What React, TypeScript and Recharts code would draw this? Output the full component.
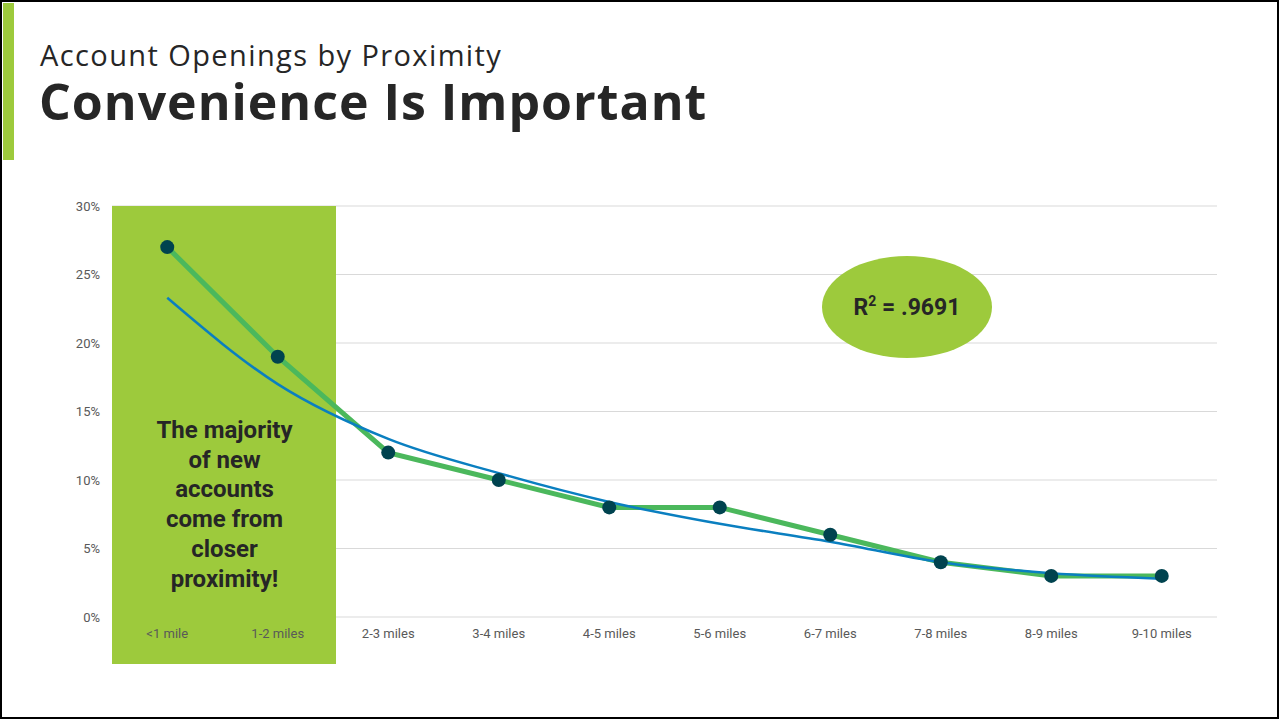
import React from "react";
import {
  LineChart,
  Line,
  XAxis,
  YAxis,
  CartesianGrid,
  ReferenceArea
} from "recharts";

const distances = [
  "<1 mile",
  "1-2 miles",
  "2-3 miles",
  "3-4 miles",
  "4-5 miles",
  "5-6 miles",
  "6-7 miles",
  "7-8 miles",
  "8-9 miles",
  "9-10 miles"
];
const openings = [27, 19, 12, 10, 8, 8, 6, 4, 3, 3];
const trend = [23.3, 17.0, 13.0, 10.5, 8.4, 6.8, 5.5, 4.0, 3.2, 2.8];
const percentTicks = [0, 5, 10, 15, 20, 25, 30];
const calloutLines = [
  "The majority",
  "of new",
  "accounts",
  "come from",
  "closer",
  "proximity!"
];

const data = distances.map((d, i) => ({
  distance: d,
  openings: openings[i],
  trend: trend[i]
}));

const GREEN = "#9dca3c";
const FONT = "Roboto, 'Noto Sans', sans-serif";
const TITLE_FONT = "'Open Sans', Roboto, sans-serif";

// green highlight behind the two nearest bands, runs down past the axis labels
const Highlight = (props: any) => {
  const { x, y, width, height } = props;
  const cx = x + width / 2;
  return (
    <g>
      <rect x={x} y={y} width={width + 3} height={height + 47} fill={GREEN} />
      <text
        textAnchor="middle"
        fontFamily={FONT}
        fontWeight={700}
        fontSize={24}
        fill="#262626"
      >
        {calloutLines.map((line, i) => (
          <tspan key={line} x={cx + 2} y={y + 232 + i * 29.7}>
            {line}
          </tspan>
        ))}
      </text>
    </g>
  );
};

export default function App() {
  return (
    <div
      style={{
        position: "absolute",
        left: 0,
        top: 0,
        width: 1279,
        height: 719,
        boxSizing: "border-box",
        border: "2px solid #000",
        background: "#fff",
        fontFamily: FONT,
        overflow: "hidden"
      }}
    >
      <div
        style={{
          position: "absolute",
          left: 1,
          top: 1,
          width: 11,
          height: 157,
          background: GREEN
        }}
      />
      <div
        style={{
          position: "absolute",
          left: 38,
          top: 38,
          fontSize: 29,
          lineHeight: 1,
          color: "#262626",
          whiteSpace: "nowrap",
          fontFamily: TITLE_FONT,
          letterSpacing: 1.4
        }}
      >
        Account Openings by Proximity
      </div>
      <div
        style={{
          position: "absolute",
          left: 37,
          top: 73.5,
          fontSize: 50,
          lineHeight: 1,
          fontWeight: 700,
          color: "#262626",
          whiteSpace: "nowrap",
          fontFamily: TITLE_FONT,
          letterSpacing: 1
        }}
      >
        Convenience Is Important
      </div>

      <div style={{ position: "absolute", left: -2, top: -2 }}>
        <LineChart
          width={1279}
          height={719}
          data={data}
          margin={{ top: 206, right: 62, bottom: 72, left: 52 }}
        >
          <ReferenceArea
            x1="<1 mile"
            x2="1-2 miles"
            y1={0}
            y2={30}
            ifOverflow="visible"
            shape={Highlight}
          />
          <CartesianGrid vertical={false} stroke="#d9d9d9" strokeWidth={1} />
          <XAxis
            dataKey="distance"
            scale="band"
            axisLine={false}
            tickLine={false}
            tickMargin={6}
            interval={0}
            tick={{ fontSize: 13, fill: "#595959", fontFamily: FONT }}
          />
          <YAxis
            width={60}
            domain={[0, 30]}
            ticks={percentTicks}
            axisLine={false}
            tickLine={false}
            tickMargin={6}
            tickFormatter={(v: number) => `${v}%`}
            tick={{ fontSize: 13, fill: "#595959", fontFamily: FONT }}
          />
          <Line
            dataKey="openings"
            type="linear"
            stroke="#4bb85c"
            strokeWidth={5}
            dot={{ r: 7, fill: "#00434f", stroke: "#00434f", strokeWidth: 0 }}
            isAnimationActive={false}
          />
          <Line
            dataKey="trend"
            type="monotone"
            stroke="#0a7fc0"
            strokeWidth={2.5}
            dot={false}
            isAnimationActive={false}
          />
        </LineChart>
      </div>

      <div
        style={{
          position: "absolute",
          left: 822 - 2,
          top: 256 - 2,
          width: 170,
          height: 102,
          borderRadius: "50%",
          background: GREEN,
          display: "flex",
          alignItems: "center",
          justifyContent: "center",
          fontSize: 23,
          fontWeight: 700,
          color: "#262626"
        }}
      >
        <span>
          R<sup style={{ fontSize: 14, verticalAlign: 9, lineHeight: 0 }}>2</sup> = .9691
        </span>
      </div>
    </div>
  );
}
